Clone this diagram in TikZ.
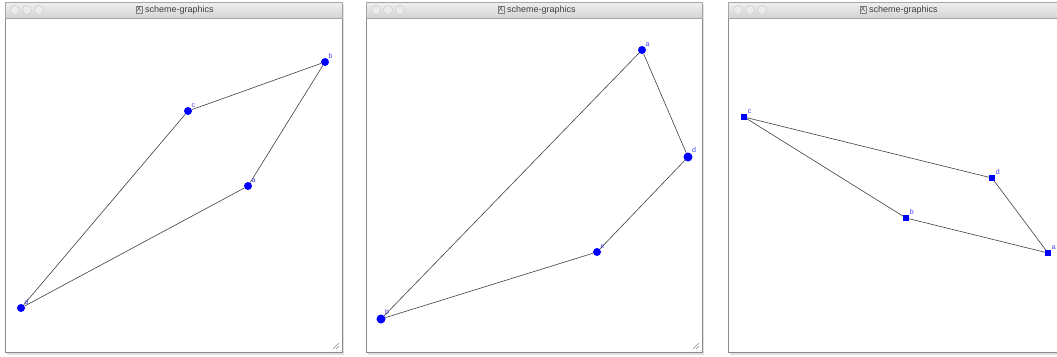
\documentclass[tikz,border=0pt]{standalone}
\usepackage{fontspec}
\setmainfont{Liberation Sans}
\tikzset{
  win/.style={draw=black!45, fill=white, line width=0.8pt},
  titlebar/.style={top color=black!6, bottom color=black!17, draw=black!35, line width=0.5pt},
  lamp/.style={circle, draw=black!22, fill=black!8, minimum size=9pt, inner sep=0pt},
  dotpt/.style={circle, fill=blue, inner sep=0pt, minimum size=8pt},
  bigpt/.style={circle, fill=blue, inner sep=0pt, minimum size=9pt},
  sqpt/.style={rectangle, fill=blue, inner sep=0pt, minimum size=6pt},
  lbl/.style={font=\fontsize{7}{7}\selectfont, text=blue!75, inner sep=0.5pt},
  edge/.style={draw=black!75, line width=0.6pt},
  titletext/.style={font=\fontsize{9}{9}\selectfont, text=black!75}
}
\newcommand{\frameWin}[3]{%
  % window frame, title bar, lamps, title, grip
  \fill[black!12] (#1+2,4) rectangle (#2+2,355);
  \draw[win] (#1,2) rectangle (#2,352);
  \draw[titlebar] (#1,2) rectangle (#2,18);
  \node[lamp] at (#1+10,10) {};
  \node[lamp] at (#1+22,10) {};
  \node[lamp] at (#1+34,10) {};
  \node[titletext, anchor=west] at (#3,10) {\tikz[baseline=-0.6ex]\node[draw=black!50, inner sep=1pt, font=\fontsize{7}{7}\selectfont]{X};\ scheme-graphics};
}
\begin{document}
\begin{tikzpicture}[x=1pt, y=-1pt]
\useasboundingbox (0,0) rectangle (1057,356);

% Window 1
\frameWin{5}{342}{132}
\draw[black!45] (333,349) -- (339,343) (336,349) -- (339,346);
\node[dotpt] (b1) at (325,62) {};
\node[dotpt] (c1) at (188,111) {};
\node[dotpt] (a1) at (248,186) {};
\node[dotpt] (d1) at (21,308) {};
\node[lbl, anchor=south west] at (b1.north east) {b};
\node[lbl, anchor=south west] at (c1.north east) {c};
\node[lbl, anchor=south west] at (a1.north east) {a};
\node[lbl, anchor=south west] at (d1.north east) {d};
\draw[edge] (d1) -- (c1) -- (b1) -- (a1) -- (d1);

% Window 2
\frameWin{366}{702}{494}
\draw[black!45] (693,349) -- (699,343) (696,349) -- (699,346);
\node[dotpt] (a2) at (642,50) {};
\node[bigpt] (d2) at (688,157) {};
\node[dotpt] (e2) at (597,252) {};
\node[bigpt] (b2) at (381,319) {};
\node[lbl, anchor=south west] at (a2.north east) {a};
\node[lbl, anchor=south west] at (d2.north east) {d};
\node[lbl, anchor=south west] at (e2.north east) {e};
\node[lbl, anchor=south west] at (b2.north east) {b};
\draw[edge] (b2) -- (a2) -- (d2) -- (e2) -- (b2);

% Window 3
\frameWin{728}{1060}{856}
\node[sqpt] (c3) at (744,117) {};
\node[sqpt] (d3) at (992,178) {};
\node[sqpt] (b3) at (906,218) {};
\node[sqpt] (a3) at (1048,253) {};
\node[lbl, anchor=south west] at (c3.north east) {c};
\node[lbl, anchor=south west] at (d3.north east) {d};
\node[lbl, anchor=south west] at (b3.north east) {b};
\node[lbl, anchor=south west] at (a3.north east) {a};
\draw[edge] (c3) -- (d3) -- (a3) -- (b3) -- (c3);
\end{tikzpicture}
\end{document}
